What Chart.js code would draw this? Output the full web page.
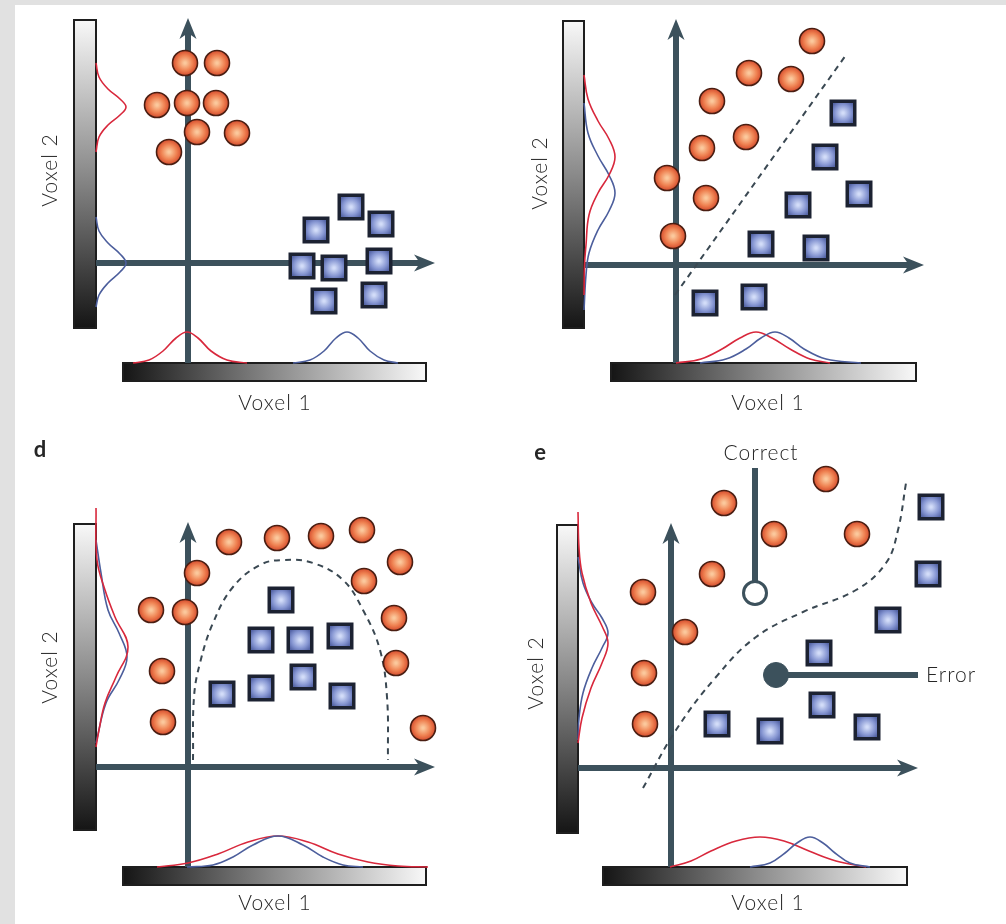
<!DOCTYPE html>
<html>
<head>
<meta charset="utf-8">
<script src="https://cdn.jsdelivr.net/npm/chart.js@4.4.0/dist/chart.umd.min.js"></script>
<style>
  html, body { margin: 0; padding: 0; background: #fff; }
  body { width: 1006px; height: 924px; position: relative; overflow: hidden; }
  .band { position: absolute; background: #e1e1e1; }
  canvas { position: absolute; }
</style>
</head>
<body>
<div class="band" style="left:0;top:0;width:15px;height:924px"></div>
<div class="band" style="left:0;top:0;width:1006px;height:5px"></div>
<canvas id="p1" width="503" height="430" style="left:0;top:0"></canvas>
<canvas id="p2" width="503" height="430" style="left:503px;top:0"></canvas>
<canvas id="p3" width="503" height="494" style="left:0;top:430px"></canvas>
<canvas id="p4" width="503" height="494" style="left:503px;top:430px"></canvas>
<script>
// values in voxel units, axis crossing = (0, 0)
// density curves are [position along the bar, height above the bar]

// panel c (top left): two separate clusters
const p1Circles = [[-0.3, 20.0], [2.9, 20.0], [-3.1, 15.8], [-0.1, 16.0], [2.8, 16.0], [0.9, 13.1], [4.9, 13.0], [-1.9, 11.1]];
const p1Squares = [[16.3, 5.6], [19.3, 3.9], [12.8, 3.3], [11.4, -0.3], [14.6, -0.5], [19.1, 0.2], [13.6, -3.8], [18.6, -3.2]];
const p1RedV = [[20.0, 0], [18.6, 0.3], [17.4, 1.2], [16.4, 2.4], [15.6, 3.0], [14.8, 2.4], [13.8, 1.2], [12.6, 0.3], [11.1, 0]];
const p1BlueV = [[4.6, 0], [3.2, 0.3], [2.0, 1.2], [0.9, 2.4], [0, 3.0], [-0.9, 2.4], [-2.0, 1.2], [-3.2, 0.3], [-4.4, 0]];
const p1RedH = [[-5.5, 0], [-3.9, 0.3], [-2.5, 1.2], [-1.2, 2.5], [-0.1, 3.1], [1.0, 2.5], [2.3, 1.2], [3.9, 0.3], [5.9, 0]];
const p1BlueH = [[10.5, 0], [12.2, 0.3], [13.6, 1.2], [14.8, 2.5], [15.9, 3.1], [17.0, 2.5], [18.2, 1.2], [19.6, 0.3], [21.0, 0]];

// panel (top right): linear boundary
const p2Circles = [[13.6, 22.4], [7.3, 19.2], [11.5, 18.6], [3.6, 16.4], [7.0, 12.8], [2.6, 11.7], [-0.9, 8.7], [3.0, 6.7], [-0.3, 2.9]];
const p2Squares = [[16.7, 15.2], [14.9, 10.8], [18.3, 7.1], [12.2, 6.0], [8.5, 2.1], [14.0, 1.7], [2.9, -3.8], [7.8, -3.2]];
const p2Boundary = [[-0.1, -3.0], [17.0, 21.0]];
const p2RedV = [[19.0, 0], [16.6, 0.4], [14.4, 1.4], [12.6, 2.5], [10.8, 3.1], [9.0, 2.5], [7.2, 1.4], [5.0, 0.5], [2.0, 0.2], [0, 0.05], [-3.0, 0]];
const p2BlueV = [[16.2, 0], [13.2, 0.4], [10.9, 1.4], [9.0, 2.5], [7.2, 3.1], [5.4, 2.5], [3.5, 1.4], [1.2, 0.5], [-1.0, 0.2], [-4.5, 0]];
const p2RedH = [[0, 0], [2.5, 0.4], [4.6, 1.4], [6.4, 2.5], [8.0, 3.1], [9.6, 2.5], [11.4, 1.4], [13.4, 0.4], [15.4, 0]];
const p2BlueH = [[2.4, 0], [5.0, 0.4], [7.0, 1.4], [8.5, 2.5], [9.9, 3.1], [11.3, 2.5], [12.8, 1.4], [15.0, 0.4], [18.5, 0]];

// panel d: curved (arch) boundary
const p3Circles = [[4.1, 22.5], [8.9, 22.9], [13.3, 23.1], [17.4, 23.7], [21.2, 20.5], [0.9, 19.4], [17.6, 18.6], [-3.7, 15.7],
  [-0.3, 15.5], [20.6, 14.9], [20.8, 10.4], [-2.6, 9.6], [-2.5, 4.5], [23.5, 3.9]];
const p3Squares = [[9.3, 16.7], [7.3, 12.7], [11.2, 12.7], [15.2, 13.1], [11.5, 9.0], [7.3, 7.9], [3.4, 7.3], [15.4, 7.1]];
const p3Boundary = [[0.5, 0.7], [0.6, 7.0], [1.2, 10.4], [2.5, 14.4], [4.5, 18.0], [7.2, 20.2], [9.5, 20.7], [12.5, 20.4],
  [15.5, 18.7], [17.5, 15.7], [19.2, 11.7], [19.9, 7.0], [20.0, 0.7]];
const p3RedV = [[25.9, 0], [20.7, 0.1], [17.7, 0.9], [15.0, 1.9], [12.0, 3.2], [9.0, 2.0], [6.4, 0.9], [3.7, 0.3], [2.0, 0]];
const p3BlueV = [[22.7, 0], [19.4, 0.5], [15.7, 1.2], [13.4, 2.3], [11.0, 3.1], [8.7, 2.3], [6.4, 1.0], [2.4, 0]];
const p3RedH = [[-3.1, 0], [0, 0.4], [3.0, 1.3], [6.0, 2.5], [9.0, 3.1], [12.0, 2.5], [15.0, 1.3], [18.0, 0.5], [21.0, 0.1], [24.0, 0]];
const p3BlueH = [[-0.1, 0], [2.5, 0.2], [4.5, 1.0], [6.5, 2.2], [9.0, 3.1], [11.5, 2.2], [13.5, 1.0], [15.5, 0.2], [17.5, 0]];

// panel e: curved boundary with a correct and a wrong test point
const p4Circles = [[15.5, 28.9], [5.3, 26.5], [10.3, 23.4], [18.6, 23.4], [4.1, 19.4], [-2.8, 17.6], [1.4, 13.6], [-2.7, 9.5], [-2.6, 4.4]];
const p4Squares = [[26.0, 26.1], [25.7, 19.4], [21.7, 14.8], [14.8, 11.5], [15.1, 6.3], [4.6, 4.4], [9.9, 3.7], [19.6, 4.1]];
const p4Boundary = [[-2.8, -2.0], [0.5, 3.8], [4.5, 9.1], [8.5, 13.1], [13.2, 15.6], [18.5, 17.8], [21.5, 20.5], [22.7, 23.8], [23.5, 28.5]];
const p4Correct = [8.4, 17.5];
const p4Error = [10.5, 9.3];
const p4RedV = [[25.6, 0], [22.0, 0.1], [19.5, 0.4], [16.5, 1.3], [14.2, 2.4], [12.5, 3.0], [10.5, 2.4], [8.0, 1.3], [5.0, 0.4], [2.5, 0]];
const p4BlueV = [[21.1, 0], [18.5, 0.5], [16.5, 1.4], [15.0, 2.4], [13.5, 3.0], [12.0, 2.4], [10.0, 1.4], [7.5, 0.5], [5.0, 0.1], [2.8, 0]];
const p4RedH = [[-0.1, 0], [2.0, 0.6], [4.0, 1.6], [6.5, 2.6], [8.9, 3.0], [11.3, 2.6], [13.8, 1.6], [16.5, 0.6], [19.5, 0]];
const p4BlueH = [[7.9, 0], [9.9, 0.4], [11.4, 1.4], [12.6, 2.4], [13.9, 3.0], [15.2, 2.4], [16.4, 1.4], [17.9, 0.4], [19.9, 0]];

const axisLabels = ["Voxel 1", "Voxel 2"];

const AXIS = "#3c515c";
const RED = "#d8283c";
const BLUE = "#4c5e9c";
const FONT = "Lato, 'DejaVu Sans', sans-serif";

function circleSprite() {
  const c = document.createElement("canvas");
  c.width = c.height = 28;
  const g = c.getContext("2d");
  const grad = g.createRadialGradient(14, 14, 1, 14, 14, 13);
  grad.addColorStop(0, "#fbc89c");
  grad.addColorStop(0.55, "#ef8252");
  grad.addColorStop(1, "#d2472a");
  g.beginPath();
  g.arc(14, 14, 12.5, 0, Math.PI * 2);
  g.fillStyle = grad;
  g.fill();
  g.lineWidth = 1.6;
  g.strokeStyle = "#4a1e12";
  g.stroke();
  return c;
}

function squareSprite() {
  const c = document.createElement("canvas");
  c.width = c.height = 28;
  const g = c.getContext("2d");
  g.fillStyle = "#1c2232";
  g.fillRect(0.5, 0.5, 27, 27);
  const grad = g.createRadialGradient(14, 14, 1, 14, 14, 13);
  grad.addColorStop(0, "#d2dcf8");
  grad.addColorStop(0.6, "#8696d2");
  grad.addColorStop(1, "#5464a6");
  g.fillStyle = grad;
  g.fillRect(4, 4, 20, 20);
  return c;
}

const CIRCLE = circleSprite();
const SQUARE = squareSprite();

// layout of each panel: canvas size, pixel position of the axis crossing, bar and axis extents (in voxel units)
const panels = [
  { id: "p1", w: 503, h: 430, ox: 188, oy: 263, circles: p1Circles, squares: p1Squares,
    redV: p1RedV, blueV: p1BlueV, redH: p1RedH, blueH: p1BlueH,
    vBar: [-11.4, -9.2, -6.5, 24.3], hBar: [-6.5, 23.8, -11.8, -10.0], axTop: 24.5, axBottom: -10.0, axRight: 24.7,
    xLab: [8.7, -14.0], yLab: [-13.8, 9.3] },
  { id: "p2", w: 503, h: 430, ox: 173, oy: 265, circles: p2Circles, squares: p2Squares, boundary: p2Boundary, tension: 0,
    redV: p2RedV, blueV: p2BlueV, redH: p2RedH, blueH: p2BlueH,
    vBar: [-11.3, -9.2, -6.3, 24.4], hBar: [-6.5, 24.0, -11.6, -9.8], axTop: 24.6, axBottom: -9.8, axRight: 24.8,
    xLab: [9.2, -13.8], yLab: [-13.6, 9.2] },
  { id: "p3", w: 503, h: 494, ox: 188, oy: 337, circles: p3Circles, squares: p3Squares, boundary: p3Boundary, tension: 0.4,
    redV: p3RedV, blueV: p3BlueV, redH: p3RedH, blueH: p3BlueH,
    vBar: [-11.4, -9.2, -6.3, 24.3], hBar: [-6.5, 23.8, -11.8, -10.0], axTop: 24.5, axBottom: -10.0, axRight: 24.7,
    xLab: [8.7, -13.6], yLab: [-13.8, 10.0], letter: ["d", -14.8, 31.7] },
  { id: "p4", w: 503, h: 494, ox: 168, oy: 338, circles: p4Circles, squares: p4Squares, boundary: p4Boundary, tension: 0.4,
    redV: p4RedV, blueV: p4BlueV, redH: p4RedH, blueH: p4BlueH,
    vBar: [-11.4, -9.3, -6.5, 24.3], hBar: [-6.8, 23.6, -11.7, -9.9], axTop: 24.5, axBottom: -9.9, axRight: 24.7,
    xLab: [9.7, -13.5], yLab: [-13.5, 9.5], letter: ["e", -13.1, 31.5], test: true },
];

function arrow(ctx, x1, y1, x2, y2) {
  const a = Math.atan2(y2 - y1, x2 - x1), L = 21, W = 8.5, notch = 6;
  ctx.save();
  ctx.strokeStyle = AXIS;
  ctx.fillStyle = AXIS;
  ctx.lineWidth = 6;
  ctx.beginPath();
  ctx.moveTo(x1, y1);
  ctx.lineTo(x2 - (L - notch - 1) * Math.cos(a), y2 - (L - notch - 1) * Math.sin(a));
  ctx.stroke();
  ctx.translate(x2, y2);
  ctx.rotate(a);
  ctx.beginPath();
  ctx.moveTo(0, 0);
  ctx.lineTo(-L, -W);
  ctx.lineTo(-L + notch, 0);
  ctx.lineTo(-L, W);
  ctx.closePath();
  ctx.fill();
  ctx.restore();
}

function artPlugin(p) {
  return {
    id: "art" + p.id,
    beforeDatasetsDraw(chart) {
      const ctx = chart.ctx;
      const X = (v) => chart.scales.x.getPixelForValue(v);
      const Y = (v) => chart.scales.y.getPixelForValue(v);
      ctx.save();
      // grey-scale bars
      let x0 = X(p.vBar[0]), x1 = X(p.vBar[1]), yt = Y(p.vBar[3]), yb = Y(p.vBar[2]);
      let g = ctx.createLinearGradient(0, yt, 0, yb);
      g.addColorStop(0, "#f8f8f8");
      g.addColorStop(0.5, "#8a8a8a");
      g.addColorStop(1, "#151515");
      ctx.fillStyle = g;
      ctx.fillRect(x0, yt, x1 - x0, yb - yt);
      ctx.strokeStyle = "#1e1e1e";
      ctx.lineWidth = 2;
      ctx.strokeRect(x0, yt, x1 - x0, yb - yt);
      x0 = X(p.hBar[0]); x1 = X(p.hBar[1]); yt = Y(p.hBar[3]); yb = Y(p.hBar[2]);
      g = ctx.createLinearGradient(x0, 0, x1, 0);
      g.addColorStop(0, "#151515");
      g.addColorStop(0.5, "#8a8a8a");
      g.addColorStop(1, "#f8f8f8");
      ctx.fillStyle = g;
      ctx.fillRect(x0, yt, x1 - x0, yb - yt);
      ctx.strokeRect(x0, yt, x1 - x0, yb - yt);
      // axes
      arrow(ctx, X(0), Y(p.axBottom), X(0), Y(p.axTop));
      arrow(ctx, X(p.vBar[1]), Y(0), X(p.axRight), Y(0));
      ctx.restore();
    },
    afterDraw(chart) {
      const ctx = chart.ctx;
      const X = (v) => chart.scales.x.getPixelForValue(v);
      const Y = (v) => chart.scales.y.getPixelForValue(v);
      ctx.save();
      ctx.fillStyle = "#262626";
      ctx.textAlign = "center";
      ctx.textBaseline = "middle";
      ctx.font = "300 21px " + FONT;
      ctx.letterSpacing = "1px";
      ctx.fillText(axisLabels[0], X(p.xLab[0]), Y(p.xLab[1]));
      ctx.save();
      ctx.translate(X(p.yLab[0]), Y(p.yLab[1]));
      ctx.rotate(-Math.PI / 2);
      ctx.fillText(axisLabels[1], 0, 0);
      ctx.restore();
      if (p.letter) {
        ctx.letterSpacing = "0px";
        ctx.font = "bold 22px " + FONT;
        ctx.fillText(p.letter[0], X(p.letter[1]), Y(p.letter[2]));
      }
      if (p.test) {
        ctx.font = "300 21px " + FONT;
        ctx.letterSpacing = "1px";
        ctx.fillText("Correct", X(9.0), Y(31.5));
        ctx.textAlign = "left";
        ctx.fillText("Error", X(25.5), Y(p4Error[1]));
      }
      ctx.restore();
    },
  };
}

function curve(pts, color, along, edge) {
  return {
    data: pts.map(([pos, h]) => (along === "y" ? { x: edge + h, y: pos } : { x: pos, y: edge + h })),
    showLine: true, borderColor: color, borderWidth: 1.6, pointRadius: 0, tension: 0.4, fill: false, order: 5, clip: false,
  };
}

function marks(pts, sprite) {
  return {
    data: pts.map(([x, y]) => ({ x, y })),
    pointStyle: sprite, pointRadius: 13, showLine: false, order: 1, clip: false,
  };
}

panels.forEach((p) => {
  const datasets = [
    curve(p.redV, RED, "y", p.vBar[1]),
    curve(p.blueV, BLUE, "y", p.vBar[1]),
    curve(p.blueH, BLUE, "x", p.hBar[3]),
    curve(p.redH, RED, "x", p.hBar[3]),
    marks(p.circles, CIRCLE),
    marks(p.squares, SQUARE),
  ];
  if (p.boundary) {
    datasets.push({
      data: p.boundary.map(([x, y]) => ({ x, y })),
      showLine: true, borderColor: "#3a4852", borderWidth: 2, borderDash: [6, 5], pointRadius: 0,
      tension: p.tension, fill: false, order: 4, clip: false,
    });
  }
  if (p.test) {
    datasets.push({
      data: [{ x: p4Correct[0], y: 30.0 }, { x: p4Correct[0], y: p4Correct[1] }],
      showLine: true, borderColor: AXIS, borderWidth: 6, pointRadius: 0, order: 3, clip: false,
    });
    datasets.push({
      data: [{ x: p4Error[0], y: p4Error[1] }, { x: 24.7, y: p4Error[1] }],
      showLine: true, borderColor: AXIS, borderWidth: 6, pointRadius: 0, order: 3, clip: false,
    });
    datasets.push({
      data: [{ x: p4Correct[0], y: p4Correct[1] }],
      pointStyle: "circle", pointRadius: 11.5, backgroundColor: "#ffffff", borderColor: AXIS, pointBorderWidth: 3, order: 0, clip: false,
    });
    datasets.push({
      data: [{ x: p4Error[0], y: p4Error[1] }],
      pointStyle: "circle", pointRadius: 12.5, backgroundColor: AXIS, borderColor: AXIS, pointBorderWidth: 1, order: 0, clip: false,
    });
  }
  new Chart(document.getElementById(p.id), {
    type: "scatter",
    data: { datasets },
    options: {
      responsive: false,
      animation: false,
      events: [],
      layout: { padding: 0, autoPadding: false },
      plugins: { legend: { display: false }, tooltip: { enabled: false } },
      scales: {
        x: { type: "linear", display: false, min: -p.ox / 10, max: (p.w - p.ox) / 10 },
        y: { type: "linear", display: false, min: -(p.h - p.oy) / 10, max: p.oy / 10 },
      },
    },
    plugins: [artPlugin(p)],
  });
});
</script>
</body>
</html>
